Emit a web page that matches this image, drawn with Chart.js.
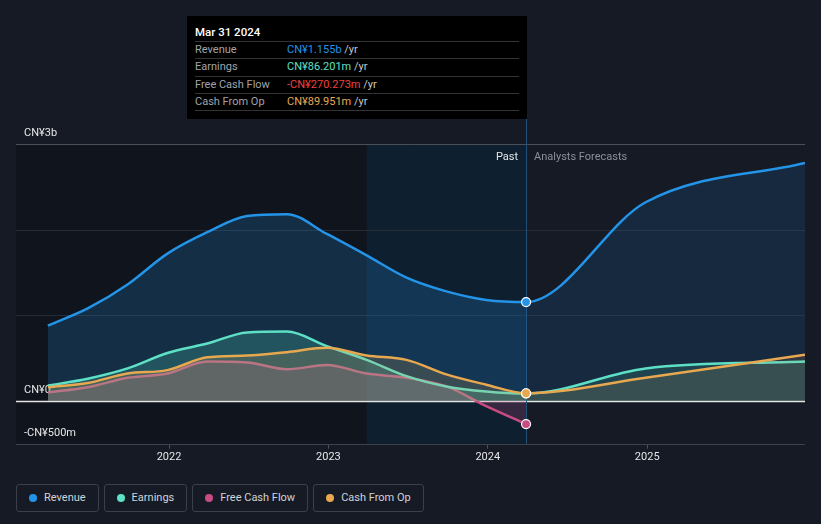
<!DOCTYPE html>
<html>
<head>
<meta charset="utf-8">
<title>Revenue, Earnings and Cash Flow</title>
<script src="https://cdn.jsdelivr.net/npm/chart.js"></script>
<style>
    body { margin: 0; background: #151a25; font-family: Roboto, "Noto Sans", sans-serif; }
    #wrap { position: relative; width: 821px; height: 524px; overflow: hidden; }
    #chart { position: absolute; left: 0; top: 0; }
    #tip { position: absolute; left: 187px; top: 16px; width: 340px; height: 103px; background: #000; font-size: 11px; }
    #tip .title { position: absolute; left: 8px; top: 9px; color: #fff; font-weight: 500; font-size: 11.5px; }
    #tip .row { position: absolute; left: 8px; width: 324px; height: 17px; border-top: 1px solid #333; color: #a0a4aa; line-height: 16px; }
    #tip .row span.v { position: absolute; left: 92px; }
    #tip .row span.u { color: #c8c8c8; }
    #legend { position: absolute; left: 16px; top: 484px; display: flex; gap: 5px; }
    .item { height: 26px; border: 1px solid #3a404a; border-radius: 3px; color: #d0d3d8; font-size: 11px; line-height: 26px; padding: 0 12px 0 27px; position: relative; }
    .item i { position: absolute; left: 12px; top: 9px; width: 8px; height: 8px; border-radius: 50%; }
</style>
</head>
<body>
<div id="wrap">
    <canvas id="chart" width="821" height="470"></canvas>
    <div id="tip"></div>
    <div id="legend"></div>
</div>
<script>
// dates as decimal years (quarter ends), values in CN¥ billions
const dates = [2021.24, 2021.49, 2021.74, 2021.99, 2022.24, 2022.49, 2022.74, 2022.99, 2023.24, 2023.49, 2023.74, 2023.99, 2024.24, 2024.99, 2025.99];
const revenue = [0.88, 1.08, 1.36, 1.72, 1.97, 2.16, 2.18, 1.95, 1.70, 1.44, 1.28, 1.18, 1.155, 2.32, 2.78];
const earnings = [0.18, 0.26, 0.38, 0.56, 0.67, 0.80, 0.81, 0.64, 0.48, 0.29, 0.17, 0.11, 0.086, 0.38, 0.46];
const freeCashFlow = [0.10, 0.16, 0.27, 0.32, 0.46, 0.45, 0.37, 0.42, 0.32, 0.27, 0.17, -0.06, -0.270];
const cashFromOp = [0.16, 0.21, 0.32, 0.36, 0.51, 0.53, 0.57, 0.62, 0.53, 0.48, 0.31, 0.19, 0.090, 0.27, 0.54];

const yGrid = [-0.5, 0, 1, 2, 3];
const yLabelValues = [3, 0, -0.5];
const yLabels = ['CN¥3b', 'CN¥0', '-CN¥500m'];
const xTicks = [2022, 2023, 2024, 2025];

const pastEnd = 2024.24;      // Mar 31 2024
const lastYearStart = 2023.24;

const tipTitle = 'Mar 31 2024';
const tipRows = [
    ['Revenue', 'CN¥1.155b', '#2394e8'],
    ['Earnings', 'CN¥86.201m', '#5de0c6'],
    ['Free Cash Flow', '-CN¥270.273m', '#f0403c'],
    ['Cash From Op', 'CN¥89.951m', '#e8a850'],
];

const series = [
    { label: 'Revenue', data: revenue, color: '#2394e8', rgb: '35,148,232', order: 4, pastA: 0.2, foreA: 0.13 },
    { label: 'Earnings', data: earnings, color: '#5de0c6', rgb: '93,224,198', order: 2, pastA: 0.22, foreA: 0.14 },
    { label: 'Free Cash Flow', data: freeCashFlow, color: '#c84b82', rgb: '200,75,130', order: 3, pastA: 0.22, foreA: 0.14 },
    { label: 'Cash From Op', data: cashFromOp, color: '#e8a850', rgb: '232,168,80', order: 1, pastA: 0.18, foreA: 0.12 },
];

const pastIndex = dates.indexOf(pastEnd);

const datasets = series.map(s => ({
    label: s.label,
    data: s.data.map((v, i) => ({ x: dates[i], y: v })),
    borderColor: s.color,
    borderWidth: 2.5,
    backgroundColor: `rgba(${s.rgb},${s.pastA})`,
    fill: 'origin',
    cubicInterpolationMode: 'monotone',
    order: s.order,
    pointRadius: ctx => ctx.dataIndex === pastIndex ? 4.5 : 0,
    pointBackgroundColor: s.color,
    pointBorderColor: '#ffffff',
    pointBorderWidth: 1.2,
    segment: {
        backgroundColor: ctx => ctx.p0.parsed.x >= pastEnd - 0.001 ? `rgba(${s.rgb},${s.foreA})` : `rgba(${s.rgb},${s.pastA})`,
    },
}));

// background bands, crosshair and the texts on the plot
const decorations = {
    id: 'decorations',
    beforeDatasetsDraw(chart) {
        const { ctx, chartArea: a, scales: { x, y } } = chart;
        const x1 = x.getPixelForValue(lastYearStart);
        const x2 = x.getPixelForValue(pastEnd);
        ctx.save();
        ctx.fillStyle = '#10141d';
        ctx.fillRect(a.left, a.top, x1 - a.left, a.bottom - a.top);
        ctx.fillStyle = '#0e1f2f';
        ctx.fillRect(x1, a.top, x2 - x1, a.bottom - a.top);

        // grid lines over the bands
        yGrid.forEach(v => {
            const py = Math.round(y.getPixelForValue(v)) + 0.5;
            ctx.strokeStyle = v === 0 ? '#e4e4e4' : (v === 3 ? '#4a505a' : (v === -0.5 ? '#3c424c' : '#262c36'));
            ctx.lineWidth = v === 0 ? 1.5 : 1;
            ctx.beginPath();
            ctx.moveTo(a.left, py);
            ctx.lineTo(a.right, py);
            ctx.stroke();
        });

        // crosshair at Mar 31 2024
        ctx.strokeStyle = '#21507a';
        ctx.lineWidth = 1;
        ctx.beginPath();
        ctx.moveTo(Math.round(x2) + 0.5, 119);
        ctx.lineTo(Math.round(x2) + 0.5, a.bottom);
        ctx.stroke();

        ctx.font = '11px Roboto, "Noto Sans", sans-serif';
        ctx.textBaseline = 'middle';
        ctx.fillStyle = '#e6e6e6';
        ctx.textAlign = 'left';
        yLabelValues.forEach((v, i) => {
            ctx.fillText(yLabels[i], a.left + 8, y.getPixelForValue(v) - 11);
        });
        ctx.textAlign = 'right';
        ctx.fillText('Past', x2 - 8, a.top + 13);
        ctx.fillStyle = '#8b9098';
        ctx.textAlign = 'left';
        ctx.fillText('Analysts Forecasts', x2 + 8, a.top + 13);
        ctx.restore();
    },
};

new Chart(document.getElementById('chart'), {
    type: 'line',
    data: { datasets },
    plugins: [decorations],
    options: {
        responsive: false,
        animation: false,
        devicePixelRatio: 1,
        layout: { padding: { left: 16, right: 16, top: 144, bottom: 4 } },
        plugins: { legend: { display: false }, tooltip: { enabled: false } },
        scales: {
            x: {
                type: 'linear',
                min: 2021.04,
                max: 2025.99,
                afterBuildTicks: axis => { axis.ticks = xTicks.map(v => ({ value: v })); },
                ticks: {
                    color: '#e6e6e6',
                    font: { size: 11, family: 'Roboto, "Noto Sans", sans-serif' },
                    padding: 2,
                    callback: v => String(v),
                },
                grid: { drawOnChartArea: false, drawTicks: true, tickLength: 5, color: '#4a505a' },
                border: { display: false },
            },
            y: {
                min: -0.5,
                max: 3,
                afterBuildTicks: axis => { axis.ticks = yGrid.map(v => ({ value: v })); },
                ticks: { display: false },
                grid: { display: false, drawTicks: false },
                border: { display: false },
            },
        },
    },
});

// tooltip box (static, Mar 31 2024)
const tip = document.getElementById('tip');
tip.innerHTML = `<div class="title">${tipTitle}</div>` + tipRows.map((r, i) =>
    `<div class="row" style="top:${25 + i * 17.3}px">${r[0]}<span class="v"><span style="color:${r[2]}">${r[1]}</span> <span class="u">/yr</span></span></div>`
).join('') + `<div class="row" style="top:${25 + 4 * 17.3}px;height:0"></div>`;

// legend
document.getElementById('legend').innerHTML = series.map(s =>
    `<div class="item"><i style="background:${s.color}"></i>${s.label}</div>`
).join('');
</script>
</body>
</html>
